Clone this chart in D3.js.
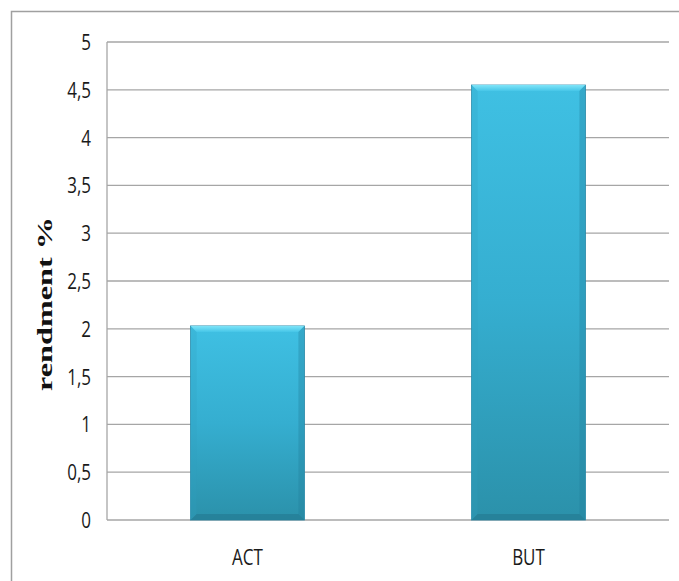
<!DOCTYPE html>
<html><head><meta charset="utf-8">
<script src="https://cdn.jsdelivr.net/npm/d3@7"></script>
<style>
html,body{margin:0;padding:0;background:#fff;}
svg{display:block;}
</style></head>
<body>
<script>
const categories = ["ACT", "BUT"];
const values = [2.03, 4.55];
const yTicks = [0, 0.5, 1, 1.5, 2, 2.5, 3, 3.5, 4, 4.5, 5];
const yTitle = "rendment %";

const W = 679, H = 581;
const plot = {left: 107, right: 669, top: 42, bottom: 520};

const svg = d3.select("body").append("svg").attr("width", W).attr("height", H);

const defs = svg.append("defs");
const g1 = defs.append("linearGradient").attr("id","barGrad").attr("x1",0).attr("y1",0).attr("x2",0).attr("y2",1);
g1.append("stop").attr("offset","0%").attr("stop-color","#3fc0e3");
g1.append("stop").attr("offset","50%").attr("stop-color","#35aed0");
g1.append("stop").attr("offset","100%").attr("stop-color","#2b91aa");
const g2 = defs.append("linearGradient").attr("id","topGrad").attr("x1",0).attr("y1",0).attr("x2",0).attr("y2",1);
g2.append("stop").attr("offset","0%").attr("stop-color","#7fe4f8");
g2.append("stop").attr("offset","100%").attr("stop-color","#46c6e8");

// outer border (top and left visible)
svg.append("rect").attr("x",11.5).attr("y",11.5).attr("width",W+20).attr("height",H+20)
  .attr("fill","none").attr("stroke","#a0a0a0").attr("stroke-width",1.5);

const y = d3.scaleLinear().domain([0,5]).range([plot.bottom, plot.top]);
const x = d3.scaleBand().domain(categories).range([plot.left, plot.right]).padding(0);
const barFrac = 0.405;

// gridlines
const grid = svg.append("g");
grid.selectAll("line").data(yTicks).join("line")
  .attr("x1", plot.left).attr("x2", plot.right)
  .attr("y1", d => y(d)).attr("y2", d => y(d))
  .attr("stroke","#a6a6a6").attr("stroke-width",1.3);
// y axis line
svg.append("line").attr("x1",plot.left).attr("x2",plot.left).attr("y1",y(5)).attr("y2",y(0))
  .attr("stroke","#a6a6a6").attr("stroke-width",1.3);

// y tick labels
const fmt = d => String(d).replace(".", ",");
svg.append("g").selectAll("text").data(yTicks).join("text")
  .attr("transform", d => `translate(91,${y(d)}) scale(1,1.3)`)
  .attr("text-anchor","end").attr("dy","0.36em")
  .attr("font-family","'Open Sans', 'Noto Sans', sans-serif").attr("font-size",17)
  .attr("fill","#1a1a1a")
  .text(fmt);

// x labels
svg.append("g").selectAll("text").data(categories).join("text")
  .attr("transform", d => `translate(${x(d)+x.bandwidth()/2},${557}) scale(1,1.3)`)
  .attr("text-anchor","middle").attr("dy","0.36em")
  .attr("font-family","'Open Sans', 'Noto Sans', sans-serif").attr("font-size",17)
  .attr("fill","#1a1a1a")
  .text(d => d);

// y title
svg.append("text")
  .attr("transform", `translate(52,304) rotate(-90) scale(1.5,1)`)
  .attr("text-anchor","middle")
  .attr("font-family","'Liberation Serif','Times New Roman',serif").attr("font-weight","bold")
  .attr("font-size",21.5).attr("fill","#111")
  .text(yTitle);

// bars
const data = categories.map((c,i)=>({c, v: values[i]}));
const bars = svg.append("g").selectAll("g").data(data).join("g");
const bw = x.bandwidth()*barFrac;
const bx = d => x(d.c) + (x.bandwidth()-bw)/2;
const bev = 6;
bars.append("rect")
  .attr("x", bx).attr("y", d => y(d.v)).attr("width", bw).attr("height", d => y(0)-y(d.v))
  .attr("fill","url(#barGrad)").attr("stroke","#2a8bab").attr("stroke-width",0.8);
// top bevel
bars.append("path").attr("d", d => {
  const x0 = bx(d), x1 = x0+bw, t = y(d.v);
  return `M${x0},${t}L${x1},${t}L${x1-bev},${t+bev}L${x0+bev},${t+bev}Z`;
}).attr("fill","url(#topGrad)");
// left bevel
bars.append("path").attr("d", d => {
  const x0 = bx(d), t = y(d.v), b = y(0);
  return `M${x0},${t}L${x0+bev},${t+bev}L${x0+bev},${b-bev}L${x0},${b}Z`;
}).attr("fill","#2f9fc0").attr("opacity",0.25);
// right bevel
bars.append("path").attr("d", d => {
  const x1 = bx(d)+bw, t = y(d.v), b = y(0);
  return `M${x1},${t}L${x1-bev},${t+bev}L${x1-bev},${b-bev}L${x1},${b}Z`;
}).attr("fill","#237f9a").attr("opacity",0.35);
// bottom bevel
bars.append("path").attr("d", d => {
  const x0 = bx(d), x1 = x0+bw, b = y(0);
  return `M${x0},${b}L${x1},${b}L${x1-bev},${b-bev}L${x0+bev},${b-bev}Z`;
}).attr("fill","#23788f").attr("opacity",0.6);
</script>
</body></html>
